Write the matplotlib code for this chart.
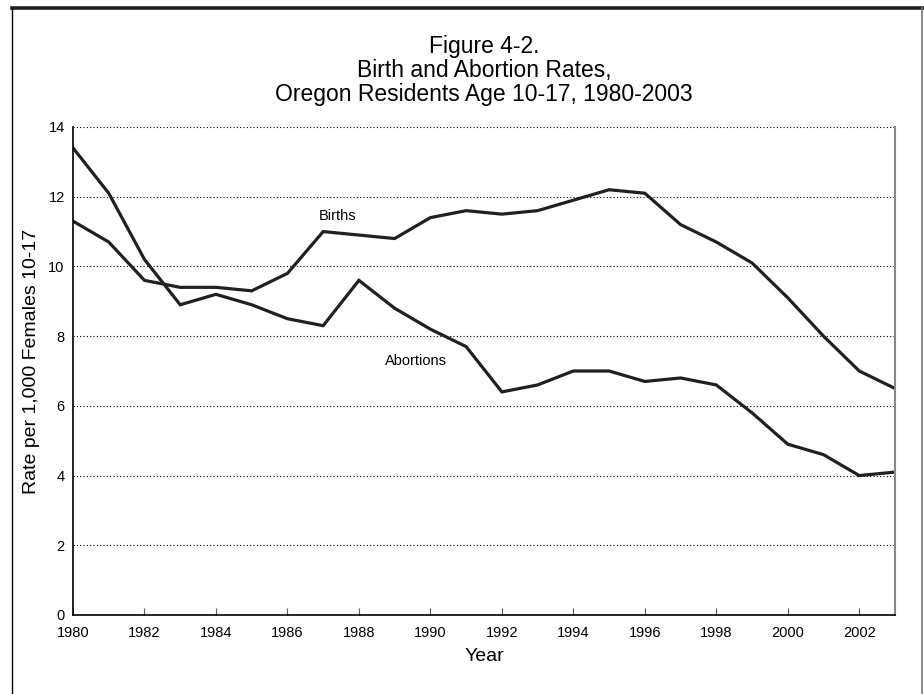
import numpy as np
import matplotlib
matplotlib.use('Agg')
import matplotlib.pyplot as plt
from matplotlib.lines import Line2D

plt.rcParams['font.family'] = ['Liberation Sans', 'DejaVu Sans']

years = list(range(1980, 2004))
births = [11.3, 10.7, 9.6, 9.4, 9.4, 9.3, 9.8, 11.0, 10.9, 10.8, 11.4, 11.6,
          11.5, 11.6, 11.9, 12.2, 12.1, 11.2, 10.7, 10.1, 9.1, 8.0, 7.0, 6.5]
abortions = [13.4, 12.1, 10.2, 8.9, 9.2, 8.9, 8.5, 8.3, 9.6, 8.8, 8.2, 7.7,
             6.4, 6.6, 7.0, 7.0, 6.7, 6.8, 6.6, 5.8, 4.9, 4.6, 4.0, 4.1]
title_lines = ['Figure 4-2.', 'Birth and Abortion Rates,',
               'Oregon Residents Age 10-17, 1980-2003']

W, H = 924, 694
fig = plt.figure(figsize=(W / 100, H / 100), dpi=100)
ax = fig.add_axes([73 / W, 1 - 615 / H, (895 - 73) / W, (615 - 127) / H])

line_col = '#231f20'
ax.plot(years, births, color=line_col, lw=2.3, solid_joinstyle='miter')
ax.plot(years, abortions, color=line_col, lw=2.3, solid_joinstyle='miter')

ax.set_xlim(1980, 2003)
ax.set_ylim(0, 14)
ax.set_xticks(range(1980, 2003, 2))
ax.set_yticks(range(0, 15, 2))
ax.tick_params(axis='x', direction='in', length=5, width=0.8, pad=8,
               labelsize=10.5, color='#555555')
ax.tick_params(axis='y', length=0, pad=6, labelsize=10.5)
for v in range(2, 15, 2):
    ax.axhline(v, color='black', lw=0.8, ls=(0, (1, 2)), zorder=0)

ax.spines['top'].set_visible(False)
ax.spines['right'].set_color('#888888')
ax.spines['right'].set_linewidth(1.5)
ax.spines['left'].set_linewidth(1.2)
ax.spines['bottom'].set_linewidth(1.2)

ax.set_xlabel('Year', fontsize=14, labelpad=6)
ax.set_ylabel('Rate per 1,000 Females 10-17', fontsize=14, labelpad=4)
ax.yaxis.set_label_coords(-0.04, 0.52)

ax.text(1987.4, 11.45, 'Births', fontsize=10.5, ha='center', va='center')
ax.text(1989.6, 7.3, 'Abortions', fontsize=10.5, ha='center', va='center')

for i, t in enumerate(title_lines):
    fig.text(484 / W, 1 - (47 + i * 24) / H, t, fontsize=16.5,
             ha='center', va='center')

# page frame
fig.add_artist(Line2D([12 / W, 923 / W], [1 - 8 / H, 1 - 8 / H],
                      transform=fig.transFigure, color='#222222', lw=2.6))
fig.add_artist(Line2D([12 / W, 12 / W], [0, 1 - 8 / H],
                      transform=fig.transFigure, color='black', lw=1.0))
fig.add_artist(Line2D([922 / W, 922 / W], [0, 1 - 8 / H],
                      transform=fig.transFigure, color='#777777', lw=1.2))

fig.savefig('out.png', dpi=100)
